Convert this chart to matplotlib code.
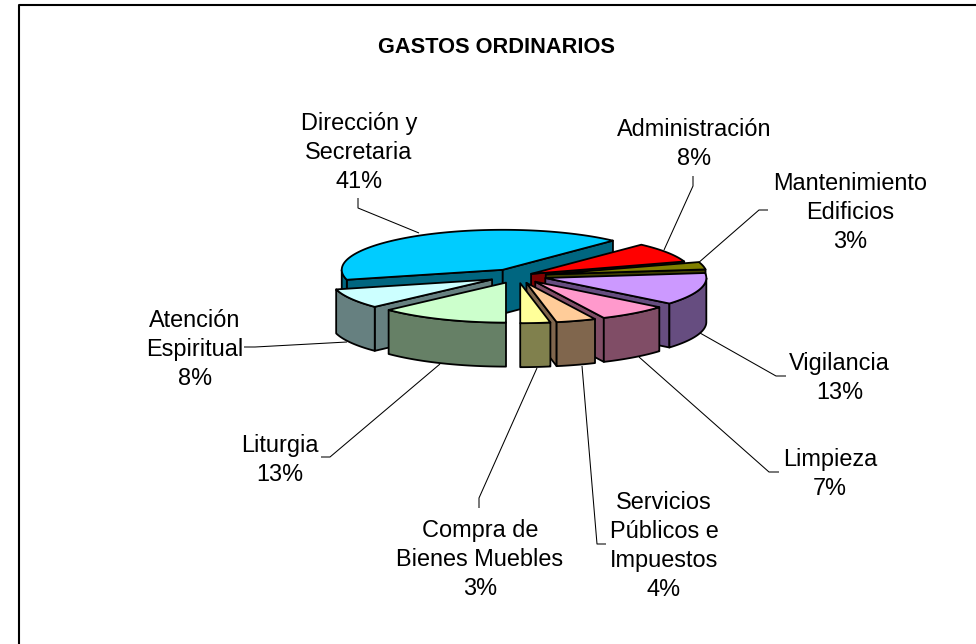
import numpy as np
import matplotlib
matplotlib.use("Agg")
import matplotlib.pyplot as plt

# ---- data ----
title = "GASTOS ORDINARIOS"
labels = ["Dirección y\nSecretaria", "Administración", "Mantenimiento\nEdificios", "Vigilancia",
          "Limpieza", "Servicios\nPúblicos e\nImpuestos", "Compra de\nBienes Muebles", "Liturgia",
          "Atención\nEspiritual"]
values = [41, 8, 3, 13, 7, 4, 3, 13, 8]
colors = ["#00CCFF", "#FF0000", "#808000", "#CC99FF", "#FF99CC", "#FFCC99", "#FFFF99", "#CCFFCC", "#CCFFFF"]
explode = [0.18, 0.10, 0.18, 0.18, 0.18, 0.18, 0.18, 0.18, 0.18]

# ---- layout (pixels) ----
W, H = 976, 644
CX, CY, RX, RY, DEPTH = 517.5, 276, 161, 40, 44
START = 255.6
label_pos = [(359, 150), (694, 141.5), (850, 210), (839.5, 375.5), (830, 471), (664, 543),
             (480, 557), (280, 457.5), (195, 347)]
leaders = [[(358, 198), (358, 208), (419, 233)],
           [(693, 176), (693, 186), (664, 250)],
           [(768, 210), (759, 210), (697, 264)],
           [(786, 376), (776, 376), (700, 333)],
           [(779, 472), (769, 472), (639, 357)],
           [(606, 544), (597, 544), (582, 366)],
           [(479, 508), (479, 498), (537, 368)],
           [(321, 457), (330, 457), (440, 364)],
           [(244, 347), (255, 347), (347, 342)]]

plt.rcParams["font.family"] = "Liberation Sans"
fig = plt.figure(figsize=(W / 100, H / 100), dpi=100, facecolor="white")
ax = fig.add_axes([0, 0, 1, 1])
ax.set_xlim(0, W)
ax.set_ylim(H, 0)
ax.axis("off")


def pt(apex, deg):
    t = np.radians(deg)
    return apex[0] + RX * np.sin(t), apex[1] - RY * np.cos(t)


def shade(hex_color):
    r, g, b = matplotlib.colors.to_rgb(hex_color)
    return (r * 0.5, g * 0.5, b * 0.5)


def face(xs, ys, fc, z):
    ax.fill(xs, ys, facecolor=fc, edgecolor="black", linewidth=1.3, joinstyle="round", zorder=z)


total = sum(values)
slices = []
a = START
for v, c, e in zip(values, colors, explode):
    b = a + 360 * v / total
    mid = np.radians((a + b) / 2)
    apex = (CX + e * RX * np.sin(mid), CY - e * RY * np.cos(mid))
    slices.append((np.cos(mid), a, b, c, apex))
    a = b

z = 2
for _, a, b, c, apex in sorted(slices, key=lambda s: -s[0]):
    dark = shade(c)
    for deg, visible in ((a, np.sin(np.radians(a)) < -1e-6), (b, np.sin(np.radians(b)) > 1e-6)):
        if visible:
            x, y = pt(apex, deg)
            face([apex[0], x, x, apex[0]], [apex[1], y, y + DEPTH, apex[1] + DEPTH], dark, z)
    for off in (0, 360):
        lo, hi = max(a, 90 + off), min(b, 270 + off)
        if lo < hi:
            th = np.linspace(lo, hi, 60)
            x, y = pt(apex, th)
            face(np.r_[x, x[::-1]], np.r_[y, y[::-1] + DEPTH], dark, z)
    th = np.linspace(a, b, 120)
    x, y = pt(apex, th)
    face(np.r_[apex[0], x], np.r_[apex[1], y], c, z)
    z += 1

for pts in leaders:
    ax.plot(*zip(*pts), color="black", lw=0.75, zorder=1, solid_capstyle="butt")

for lab, v, (x, y) in zip(labels, values, label_pos):
    lines = (lab + f"\n{v}%").split("\n")
    for i, line in enumerate(lines):
        ax.text(x, y + 9 + (i - (len(lines) - 1) / 2) * 29, line, ha="center", va="baseline",
                fontsize=16.9, color="black", zorder=20)
ax.text(496, 52.5, title, ha="center", va="baseline", fontsize=15.7, fontweight="bold", color="black", zorder=20)

# chart frame
ax.plot([18.5, 18.5, W + 5], [H + 5, 5, 5], color="black", lw=1.5, zorder=30, clip_on=True)

fig.savefig("out.png", dpi=100, facecolor="white")
